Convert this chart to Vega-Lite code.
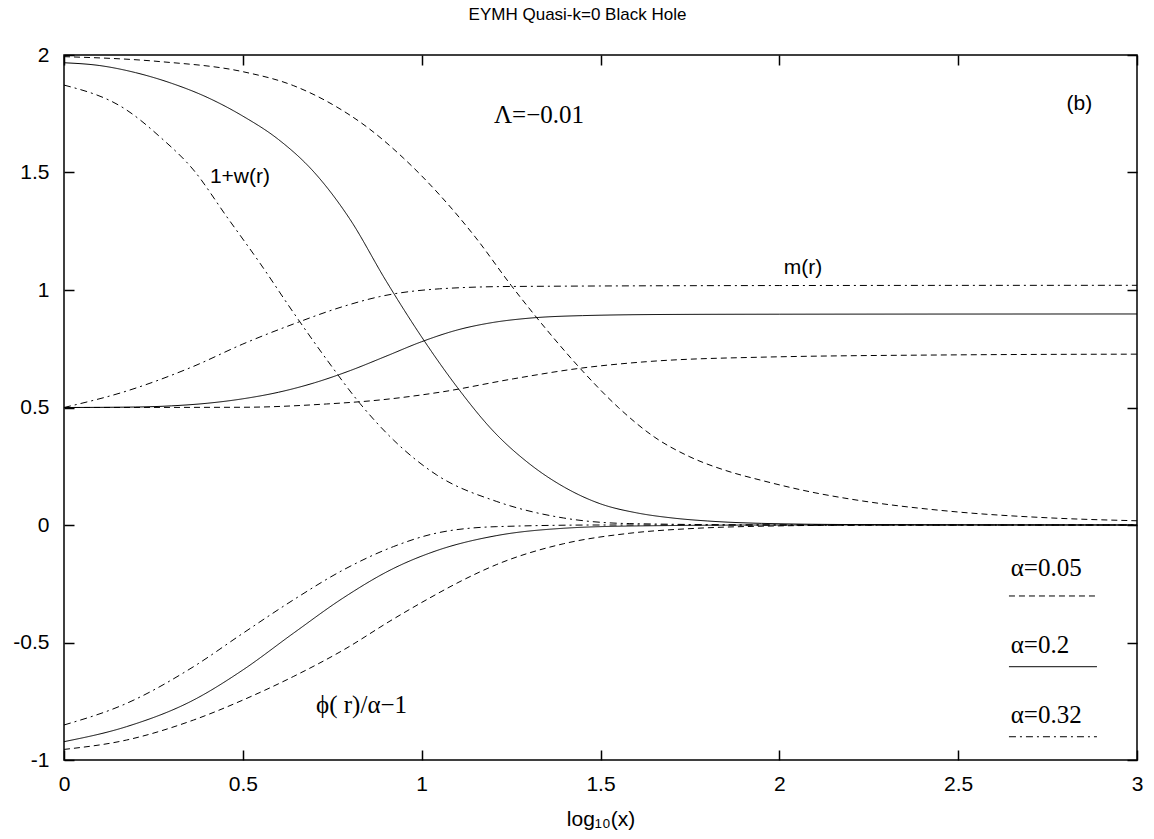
{
  "$schema": "https://vega.github.io/schema/vega-lite/v6.json",
  "width": 1073,
  "height": 705,
  "autosize": {"type": "none"},
  "padding": {"left": 64, "top": 55, "right": 17, "bottom": 79},
  "background": "white",
  "title": {
    "text": "EYMH Quasi-k=0 Black Hole",
    "font": "Liberation Sans",
    "fontSize": 17,
    "fontWeight": "normal",
    "color": "black",
    "anchor": "middle",
    "frame": "group",
    "dx": -23,
    "offset": 20
  },
  "config": {
    "view": {"stroke": "black", "strokeWidth": 1.5},
    "axis": {
      "domain": false,
      "grid": false,
      "tickColor": "black",
      "tickWidth": 1.5,
      "tickSize": -10,
      "labelColor": "black",
      "labelFont": "Liberation Sans",
      "labelFontSize": 21,
      "labelFlush": false,
      "labelOverlap": false,
      "titleColor": "black",
      "titleFont": "Liberation Sans",
      "titleFontSize": 21,
      "titleFontWeight": "normal"
    }
  },
  "datasets": {
    "curves": [
      {"curve": "w05", "alpha": "0.05", "x": 0, "y": 1.993},
      {"curve": "w05", "alpha": "0.05", "x": 0.268, "y": 1.972},
      {"curve": "w05", "alpha": "0.05", "x": 0.5, "y": 1.929},
      {"curve": "w05", "alpha": "0.05", "x": 0.641, "y": 1.87},
      {"curve": "w05", "alpha": "0.05", "x": 0.75, "y": 1.79},
      {"curve": "w05", "alpha": "0.05", "x": 0.85, "y": 1.69},
      {"curve": "w05", "alpha": "0.05", "x": 0.95, "y": 1.56},
      {"curve": "w05", "alpha": "0.05", "x": 1.05, "y": 1.405},
      {"curve": "w05", "alpha": "0.05", "x": 1.15, "y": 1.225},
      {"curve": "w05", "alpha": "0.05", "x": 1.25, "y": 1.02},
      {"curve": "w05", "alpha": "0.05", "x": 1.35, "y": 0.83},
      {"curve": "w05", "alpha": "0.05", "x": 1.45, "y": 0.655},
      {"curve": "w05", "alpha": "0.05", "x": 1.55, "y": 0.5},
      {"curve": "w05", "alpha": "0.05", "x": 1.65, "y": 0.375},
      {"curve": "w05", "alpha": "0.05", "x": 1.75, "y": 0.29},
      {"curve": "w05", "alpha": "0.05", "x": 1.85, "y": 0.232},
      {"curve": "w05", "alpha": "0.05", "x": 1.95, "y": 0.19},
      {"curve": "w05", "alpha": "0.05", "x": 2.1, "y": 0.137},
      {"curve": "w05", "alpha": "0.05", "x": 2.2, "y": 0.11},
      {"curve": "w05", "alpha": "0.05", "x": 2.48, "y": 0.058},
      {"curve": "w05", "alpha": "0.05", "x": 2.76, "y": 0.03},
      {"curve": "w05", "alpha": "0.05", "x": 3, "y": 0.018},

      {"curve": "w2", "alpha": "0.2", "x": 0, "y": 1.967},
      {"curve": "w2", "alpha": "0.2", "x": 0.1, "y": 1.955},
      {"curve": "w2", "alpha": "0.2", "x": 0.2, "y": 1.925},
      {"curve": "w2", "alpha": "0.2", "x": 0.3, "y": 1.88},
      {"curve": "w2", "alpha": "0.2", "x": 0.4, "y": 1.82},
      {"curve": "w2", "alpha": "0.2", "x": 0.5, "y": 1.74},
      {"curve": "w2", "alpha": "0.2", "x": 0.6, "y": 1.64},
      {"curve": "w2", "alpha": "0.2", "x": 0.7, "y": 1.5},
      {"curve": "w2", "alpha": "0.2", "x": 0.8, "y": 1.3},
      {"curve": "w2", "alpha": "0.2", "x": 0.9, "y": 1.04},
      {"curve": "w2", "alpha": "0.2", "x": 1.0, "y": 0.8},
      {"curve": "w2", "alpha": "0.2", "x": 1.1, "y": 0.585},
      {"curve": "w2", "alpha": "0.2", "x": 1.2, "y": 0.4},
      {"curve": "w2", "alpha": "0.2", "x": 1.3, "y": 0.262},
      {"curve": "w2", "alpha": "0.2", "x": 1.4, "y": 0.16},
      {"curve": "w2", "alpha": "0.2", "x": 1.5, "y": 0.09},
      {"curve": "w2", "alpha": "0.2", "x": 1.6, "y": 0.052},
      {"curve": "w2", "alpha": "0.2", "x": 1.7, "y": 0.03},
      {"curve": "w2", "alpha": "0.2", "x": 1.8, "y": 0.017},
      {"curve": "w2", "alpha": "0.2", "x": 1.95, "y": 0.007},
      {"curve": "w2", "alpha": "0.2", "x": 2.2, "y": 0.002},
      {"curve": "w2", "alpha": "0.2", "x": 3, "y": 0},

      {"curve": "w32", "alpha": "0.32", "x": 0, "y": 1.872},
      {"curve": "w32", "alpha": "0.32", "x": 0.175, "y": 1.766},
      {"curve": "w32", "alpha": "0.32", "x": 0.268, "y": 1.652},
      {"curve": "w32", "alpha": "0.32", "x": 0.362, "y": 1.511},
      {"curve": "w32", "alpha": "0.32", "x": 0.455, "y": 1.312},
      {"curve": "w32", "alpha": "0.32", "x": 0.548, "y": 1.114},
      {"curve": "w32", "alpha": "0.32", "x": 0.641, "y": 0.905},
      {"curve": "w32", "alpha": "0.32", "x": 0.734, "y": 0.705},
      {"curve": "w32", "alpha": "0.32", "x": 0.827, "y": 0.518},
      {"curve": "w32", "alpha": "0.32", "x": 0.921, "y": 0.362},
      {"curve": "w32", "alpha": "0.32", "x": 1.042, "y": 0.213},
      {"curve": "w32", "alpha": "0.32", "x": 1.21, "y": 0.1},
      {"curve": "w32", "alpha": "0.32", "x": 1.396, "y": 0.03},
      {"curve": "w32", "alpha": "0.32", "x": 1.582, "y": 0.006},
      {"curve": "w32", "alpha": "0.32", "x": 2, "y": 0},
      {"curve": "w32", "alpha": "0.32", "x": 3, "y": 0},

      {"curve": "m05", "alpha": "0.05", "x": 0, "y": 0.5},
      {"curve": "m05", "alpha": "0.05", "x": 0.5, "y": 0.501},
      {"curve": "m05", "alpha": "0.05", "x": 0.734, "y": 0.515},
      {"curve": "m05", "alpha": "0.05", "x": 0.883, "y": 0.532},
      {"curve": "m05", "alpha": "0.05", "x": 1.051, "y": 0.565},
      {"curve": "m05", "alpha": "0.05", "x": 1.256, "y": 0.622},
      {"curve": "m05", "alpha": "0.05", "x": 1.443, "y": 0.667},
      {"curve": "m05", "alpha": "0.05", "x": 1.629, "y": 0.695},
      {"curve": "m05", "alpha": "0.05", "x": 1.946, "y": 0.714},
      {"curve": "m05", "alpha": "0.05", "x": 2.5, "y": 0.724},
      {"curve": "m05", "alpha": "0.05", "x": 3, "y": 0.727},

      {"curve": "m2", "alpha": "0.2", "x": 0, "y": 0.5},
      {"curve": "m2", "alpha": "0.2", "x": 0.2, "y": 0.502},
      {"curve": "m2", "alpha": "0.2", "x": 0.3, "y": 0.507},
      {"curve": "m2", "alpha": "0.2", "x": 0.4, "y": 0.518},
      {"curve": "m2", "alpha": "0.2", "x": 0.5, "y": 0.537},
      {"curve": "m2", "alpha": "0.2", "x": 0.6, "y": 0.565},
      {"curve": "m2", "alpha": "0.2", "x": 0.7, "y": 0.605},
      {"curve": "m2", "alpha": "0.2", "x": 0.8, "y": 0.657},
      {"curve": "m2", "alpha": "0.2", "x": 0.9, "y": 0.718},
      {"curve": "m2", "alpha": "0.2", "x": 1.0, "y": 0.78},
      {"curve": "m2", "alpha": "0.2", "x": 1.1, "y": 0.83},
      {"curve": "m2", "alpha": "0.2", "x": 1.2, "y": 0.862},
      {"curve": "m2", "alpha": "0.2", "x": 1.3, "y": 0.88},
      {"curve": "m2", "alpha": "0.2", "x": 1.45, "y": 0.891},
      {"curve": "m2", "alpha": "0.2", "x": 1.7, "y": 0.896},
      {"curve": "m2", "alpha": "0.2", "x": 2, "y": 0.897},
      {"curve": "m2", "alpha": "0.2", "x": 3, "y": 0.898},

      {"curve": "m32", "alpha": "0.32", "x": 0, "y": 0.5},
      {"curve": "m32", "alpha": "0.32", "x": 0.175, "y": 0.57},
      {"curve": "m32", "alpha": "0.32", "x": 0.362, "y": 0.675},
      {"curve": "m32", "alpha": "0.32", "x": 0.5, "y": 0.77},
      {"curve": "m32", "alpha": "0.32", "x": 0.641, "y": 0.855},
      {"curve": "m32", "alpha": "0.32", "x": 0.781, "y": 0.93},
      {"curve": "m32", "alpha": "0.32", "x": 0.883, "y": 0.972},
      {"curve": "m32", "alpha": "0.32", "x": 1.05, "y": 1.005},
      {"curve": "m32", "alpha": "0.32", "x": 1.25, "y": 1.015},
      {"curve": "m32", "alpha": "0.32", "x": 2, "y": 1.019},
      {"curve": "m32", "alpha": "0.32", "x": 3, "y": 1.02},

      {"curve": "p05", "alpha": "0.05", "x": 0, "y": -0.955},
      {"curve": "p05", "alpha": "0.05", "x": 0.175, "y": -0.915},
      {"curve": "p05", "alpha": "0.05", "x": 0.362, "y": -0.83},
      {"curve": "p05", "alpha": "0.05", "x": 0.5, "y": -0.745},
      {"curve": "p05", "alpha": "0.05", "x": 0.641, "y": -0.645},
      {"curve": "p05", "alpha": "0.05", "x": 0.781, "y": -0.532},
      {"curve": "p05", "alpha": "0.05", "x": 0.921, "y": -0.4},
      {"curve": "p05", "alpha": "0.05", "x": 1.023, "y": -0.31},
      {"curve": "p05", "alpha": "0.05", "x": 1.116, "y": -0.234},
      {"curve": "p05", "alpha": "0.05", "x": 1.21, "y": -0.168},
      {"curve": "p05", "alpha": "0.05", "x": 1.396, "y": -0.08},
      {"curve": "p05", "alpha": "0.05", "x": 1.582, "y": -0.035},
      {"curve": "p05", "alpha": "0.05", "x": 1.769, "y": -0.014},
      {"curve": "p05", "alpha": "0.05", "x": 1.954, "y": -0.005},
      {"curve": "p05", "alpha": "0.05", "x": 2.3, "y": 0},
      {"curve": "p05", "alpha": "0.05", "x": 3, "y": 0},

      {"curve": "p2", "alpha": "0.2", "x": 0, "y": -0.922},
      {"curve": "p2", "alpha": "0.2", "x": 0.175, "y": -0.858},
      {"curve": "p2", "alpha": "0.2", "x": 0.362, "y": -0.745},
      {"curve": "p2", "alpha": "0.2", "x": 0.5, "y": -0.617},
      {"curve": "p2", "alpha": "0.2", "x": 0.641, "y": -0.461},
      {"curve": "p2", "alpha": "0.2", "x": 0.781, "y": -0.31},
      {"curve": "p2", "alpha": "0.2", "x": 0.921, "y": -0.185},
      {"curve": "p2", "alpha": "0.2", "x": 1.04, "y": -0.11},
      {"curve": "p2", "alpha": "0.2", "x": 1.21, "y": -0.045},
      {"curve": "p2", "alpha": "0.2", "x": 1.396, "y": -0.014},
      {"curve": "p2", "alpha": "0.2", "x": 1.6, "y": -0.004},
      {"curve": "p2", "alpha": "0.2", "x": 2, "y": 0},
      {"curve": "p2", "alpha": "0.2", "x": 3, "y": 0},

      {"curve": "p32", "alpha": "0.32", "x": 0, "y": -0.851},
      {"curve": "p32", "alpha": "0.32", "x": 0.175, "y": -0.759},
      {"curve": "p32", "alpha": "0.32", "x": 0.362, "y": -0.603},
      {"curve": "p32", "alpha": "0.32", "x": 0.5, "y": -0.461},
      {"curve": "p32", "alpha": "0.32", "x": 0.641, "y": -0.319},
      {"curve": "p32", "alpha": "0.32", "x": 0.781, "y": -0.191},
      {"curve": "p32", "alpha": "0.32", "x": 0.921, "y": -0.092},
      {"curve": "p32", "alpha": "0.32", "x": 1.04, "y": -0.035},
      {"curve": "p32", "alpha": "0.32", "x": 1.21, "y": -0.007},
      {"curve": "p32", "alpha": "0.32", "x": 1.5, "y": 0},
      {"curve": "p32", "alpha": "0.32", "x": 3, "y": 0}
    ],
    "legendLines": [
      {"alpha": "0.05", "x": 2.642, "x2": 2.888, "y": -0.302},
      {"alpha": "0.2", "x": 2.642, "x2": 2.888, "y": -0.603},
      {"alpha": "0.32", "x": 2.642, "x2": 2.888, "y": -0.901}
    ],
    "serifCenter": [
      {"label": "Λ=−0.01", "x": 1.328, "y": 1.745},
      {"label": "ϕ( r)/α−1", "x": 0.832, "y": -0.766}
    ],
    "serifLeft": [
      {"label": "α=0.05", "x": 2.647, "y": -0.183},
      {"label": "α=0.2", "x": 2.647, "y": -0.511},
      {"label": "α=0.32", "x": 2.647, "y": -0.809}
    ],
    "sansCenter": [
      {"label": "1+w(r)", "x": 0.492, "y": 1.482},
      {"label": "m(r)", "x": 2.066, "y": 1.094},
      {"label": "(b)", "x": 2.839, "y": 1.791}
    ]
  },
  "layer": [
    {
      "data": {"name": "curves"},
      "mark": {"type": "line", "color": "black", "strokeWidth": 1, "interpolate": "monotone"},
      "encoding": {
        "x": {
          "field": "x", "type": "quantitative",
          "scale": {"domain": [0, 3], "nice": false, "zero": false},
          "axis": {
            "orient": "bottom",
            "values": [0, 0.5, 1, 1.5, 2, 2.5, 3],
            "format": "~g",
            "labelPadding": 23,
            "title": "log₁₀(x)",
            "titlePadding": 14
          }
        },
        "y": {
          "field": "y", "type": "quantitative",
          "scale": {"domain": [-1, 2], "nice": false, "zero": false},
          "axis": {
            "orient": "left",
            "values": [-1, -0.5, 0, 0.5, 1, 1.5, 2],
            "format": "~g",
            "labelExpr": "replace(datum.label, '\u2212', '-')",
            "labelPadding": 25,
            "title": null
          }
        },
        "strokeDash": {
          "field": "alpha", "type": "nominal",
          "scale": {"domain": ["0.05", "0.2", "0.32"], "range": [[6, 4], [1, 0], [7, 4, 2, 4]]},
          "legend": null
        },
        "detail": {"field": "curve"}
      }
    },
    {
      "data": {"name": "legendLines"},
      "mark": {"type": "rule", "color": "black", "strokeWidth": 1},
      "encoding": {
        "x": {
          "field": "x", "type": "quantitative",
          "scale": {"domain": [0, 3], "nice": false, "zero": false},
          "axis": {"orient": "top", "values": [0, 0.5, 1, 1.5, 2, 2.5, 3], "labels": false, "title": null}
        },
        "x2": {"field": "x2"},
        "y": {
          "field": "y", "type": "quantitative",
          "scale": {"domain": [-1, 2], "nice": false, "zero": false},
          "axis": {"orient": "right", "values": [-1, -0.5, 0, 0.5, 1, 1.5, 2], "labels": false, "title": null}
        },
        "strokeDash": {
          "field": "alpha", "type": "nominal",
          "scale": {"domain": ["0.05", "0.2", "0.32"], "range": [[6, 4], [1, 0], [7, 4, 2, 4]]},
          "legend": null
        }
      }
    },
    {
      "data": {"name": "serifCenter"},
      "mark": {"type": "text", "font": "Liberation Serif", "fontSize": 25, "color": "black", "align": "center", "baseline": "middle"},
      "encoding": {
        "x": {"field": "x", "type": "quantitative", "axis": null},
        "y": {"field": "y", "type": "quantitative", "axis": null},
        "text": {"field": "label"}
      }
    },
    {
      "data": {"name": "serifLeft"},
      "mark": {"type": "text", "font": "Liberation Serif", "fontSize": 25, "color": "black", "align": "left", "baseline": "middle"},
      "encoding": {
        "x": {"field": "x", "type": "quantitative", "axis": null},
        "y": {"field": "y", "type": "quantitative", "axis": null},
        "text": {"field": "label"}
      }
    },
    {
      "data": {"name": "sansCenter"},
      "mark": {"type": "text", "font": "Liberation Sans", "fontSize": 21, "color": "black", "align": "center", "baseline": "middle"},
      "encoding": {
        "x": {"field": "x", "type": "quantitative", "axis": null},
        "y": {"field": "y", "type": "quantitative", "axis": null},
        "text": {"field": "label"}
      }
    }
  ]
}
